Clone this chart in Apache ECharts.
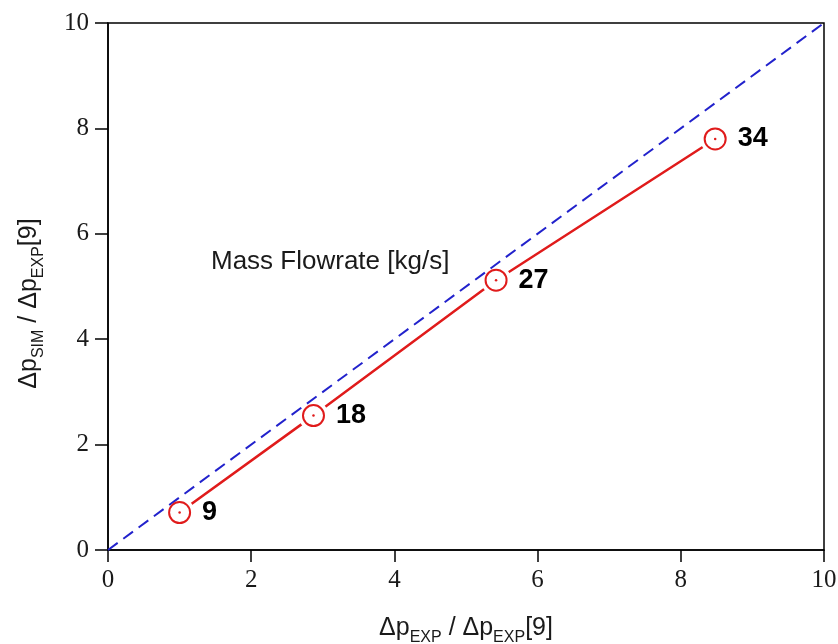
<!DOCTYPE html>
<html><head><meta charset="utf-8">
<script src="https://cdn.jsdelivr.net/npm/echarts@6/dist/echarts.min.js"></script>
<style>html,body{margin:0;padding:0;background:#fff}#c{width:838px;height:644px}</style>
</head><body><div id="c"></div>
<script>
const flowLabels = ['9', '18', '27', '34'];
const expValues = [1.0, 2.87, 5.42, 8.48];
const simValues = [0.71, 2.55, 5.12, 7.80];
const refLineX = [0, 10];
const refLineY = [0, 10];
const xTicks = [0, 2, 4, 6, 8, 10];
const yTicks = [0, 2, 4, 6, 8, 10];
const annotation = 'Mass Flowrate [kg/s]';

const pts = expValues.map((x, i) => [x, simValues[i], flowLabels[i]]);
const refPts = refLineX.map((x, i) => [x, refLineY[i]]);

const chart = echarts.init(document.getElementById('c'));
const sub = {fontFamily: 'Liberation Sans, Arial', fontSize: 16, color: '#1a1a1a', padding: [20, 0, 0, 0]};
const main = {fontFamily: 'Liberation Sans, Arial', fontSize: 25, color: '#1a1a1a'};
const red = '#e01b1b';
chart.setOption({
  animation: false,
  backgroundColor: '#fff',
  grid: {left: 108, right: 14, top: 23, bottom: 94, containLabel: false, outerBoundsMode: 'none',
    show: true, borderColor: '#000', borderWidth: 1.5, backgroundColor: 'transparent'},
  xAxis: {
    type: 'value', min: xTicks[0], max: xTicks[xTicks.length - 1], interval: 2,
    axisLine: {show: true, onZero: false, lineStyle: {color: '#000', width: 1.5}},
    axisTick: {show: true, length: 12, lineStyle: {color: '#000', width: 1.5}},
    splitLine: {show: false},
    axisLabel: {fontFamily: 'Liberation Serif, Times New Roman', fontSize: 25, color: '#1a1a1a', margin: 18},
    name: '{m|Δp}{s|EXP}{m| / Δp}{s|EXP}{m|[9]}',
    nameLocation: 'middle', nameGap: 60,
    nameTextStyle: {rich: {m: main, s: sub}}
  },
  yAxis: {
    type: 'value', min: yTicks[0], max: yTicks[yTicks.length - 1], interval: 2,
    axisLine: {show: true, onZero: false, lineStyle: {color: '#000', width: 1.5}},
    axisTick: {show: true, length: 13, lineStyle: {color: '#000', width: 1.5}},
    splitLine: {show: false},
    axisLabel: {fontFamily: 'Liberation Serif, Times New Roman', fontSize: 25, color: '#1a1a1a', margin: 19},
    name: '{m|Δp}{s|SIM}{m| / Δp}{s|EXP}{m|[9]}',
    nameLocation: 'middle', nameGap: 61,
    nameTextStyle: {rich: {m: main, s: sub}, padding: [0, 34, 0, 0]}
  },
  graphic: [{
    type: 'text', left: 211, top: 249,
    style: {text: annotation, fontFamily: 'Liberation Sans, Arial', fontSize: 26, fill: '#1a1a1a'}
  }],
  series: [
    {
      type: 'line', data: pts, symbol: 'none', z: 2,
      lineStyle: {color: red, width: 2.5}
    },
    {
      type: 'scatter', data: pts, symbol: 'circle', symbolSize: 30, z: 3,
      itemStyle: {color: '#fff', borderWidth: 0, opacity: 1}, silent: true
    },
    {
      type: 'line', data: refPts, symbol: 'none', z: 4,
      lineStyle: {color: '#2222cc', width: 2, type: [12, 7]}
    },
    {
      type: 'scatter', data: pts, symbol: 'circle', symbolSize: 21, z: 5,
      itemStyle: {color: 'rgba(255,255,255,0)', borderColor: red, borderWidth: 2, opacity: 1},
      emphasis: {disabled: true},
      label: {show: true, position: 'right', distance: 11, formatter: p => p.data[2],
        fontFamily: 'Liberation Sans, Arial', fontWeight: 'bold', fontSize: 27, color: '#000'}
    },
    {
      type: 'scatter', data: pts, symbol: 'circle', symbolSize: 2.5, z: 6,
      itemStyle: {color: red, opacity: 1}
    }
  ]
});
</script></body></html>
